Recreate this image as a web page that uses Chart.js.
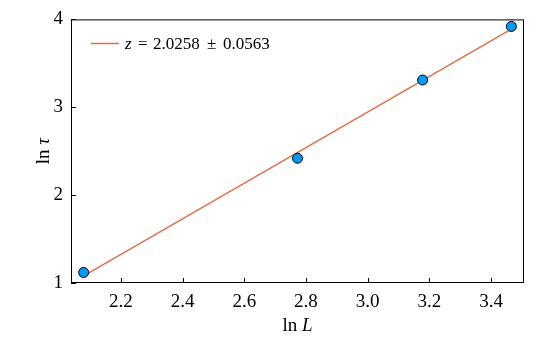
<!DOCTYPE html>
<html>
<head>
<meta charset="utf-8">
<script src="https://cdn.jsdelivr.net/npm/chart.js@4"></script>
<style>
  html, body { margin: 0; padding: 0; background: #fff; }
  #wrap { width: 540px; height: 360px; }
</style>
</head>
<body>
<div id="wrap"><canvas id="c" width="540" height="360"></canvas></div>
<script>
// 数据：ln L 与 ln tau
const lnL = [2.0794, 2.7726, 3.1781, 3.4657];
const lnTau = [1.12, 2.42, 3.31, 3.92];

// 拟合直线的两个端点
const fitX = [2.0794, 3.4657];
const fitY = [1.081, 3.890];
const fitLabel = ['z', '=', '2.0258', '±', '0.0563'];

// 刻度
const xTicks = [2.2, 2.4, 2.6, 2.8, 3.0, 3.2, 3.4];
const yTicks = [1, 2, 3, 4];

const SERIF = '"Liberation Serif", "DejaVu Serif", serif';

// 画混合字体的文字（正体 + 斜体）
function mixedText(ctx, parts, cx, by, size) {
  let total = 0;
  parts.forEach(p => {
    ctx.font = (p[1] ? 'italic ' : '') + size + 'px ' + SERIF;
    total += ctx.measureText(p[0]).width;
  });
  let sx = cx - total / 2;
  parts.forEach(p => {
    ctx.font = (p[1] ? 'italic ' : '') + size + 'px ' + SERIF;
    ctx.fillText(p[0], sx, by);
    sx += ctx.measureText(p[0]).width;
  });
}

// 边框、内刻度、坐标轴标题和图例
const framePlugin = {
  id: 'frame',
  afterDraw(chart) {
    const { ctx, chartArea: a, scales: { x, y } } = chart;
    ctx.save();
    ctx.strokeStyle = '#000';
    ctx.lineWidth = 1;
    ctx.strokeRect(a.left + 0.5, a.top + 0.5, a.right - a.left - 1, a.bottom - a.top - 1);

    ctx.beginPath();
    xTicks.forEach(v => {
      const px = Math.round(x.getPixelForValue(v)) + 0.5;
      ctx.moveTo(px, a.bottom);
      ctx.lineTo(px, a.bottom - 5);
    });
    yTicks.forEach(v => {
      const py = Math.round(y.getPixelForValue(v)) + 0.5;
      ctx.moveTo(a.left, py);
      ctx.lineTo(a.left + 5, py);
    });
    ctx.stroke();

    ctx.fillStyle = '#000';
    ctx.textBaseline = 'alphabetic';

    // x 轴标题 ln L
    mixedText(ctx, [['ln ', false], ['L', true]], (a.left + a.right) / 2, 331, 19);

    // y 轴标题 ln τ
    ctx.save();
    ctx.translate(49, (a.top + a.bottom) / 2);
    ctx.rotate(-Math.PI / 2);
    mixedText(ctx, [['ln ', false], ['τ', true]], 0, 0, 19);
    ctx.restore();

    // 图例
    const ds = chart.data.datasets[1];
    ctx.strokeStyle = ds.borderColor;
    ctx.lineWidth = 1.5;
    ctx.beginPath();
    ctx.moveTo(91, 43.5);
    ctx.lineTo(119, 43.5);
    ctx.stroke();
    const xs = [125, 138, 153, 207, 223];
    fitLabel.forEach((t, i) => {
      ctx.font = (i === 0 ? 'italic ' : '') + '17px ' + SERIF;
      ctx.fillText(t, xs[i], 49);
    });

    ctx.restore();
  }
};

new Chart(document.getElementById('c').getContext('2d'), {
  type: 'scatter',
  data: {
    datasets: [
      {
        label: '',
        data: lnL.map((v, i) => ({ x: v, y: lnTau[i] })),
        backgroundColor: '#009AFA',
        borderColor: '#000',
        borderWidth: 1,
        pointRadius: 5,
        order: 0
      },
      {
        label: fitLabel.join(' '),
        type: 'line',
        data: fitX.map((v, i) => ({ x: v, y: fitY[i] })),
        borderColor: '#E26F46',
        borderWidth: 1.5,
        pointRadius: 0,
        fill: false,
        order: 1
      }
    ]
  },
  options: {
    responsive: false,
    animation: false,
    layout: { padding: { top: 16, right: 16, left: 0, bottom: 0 } },
    plugins: {
      legend: { display: false },
      tooltip: { enabled: false }
    },
    scales: {
      x: {
        type: 'linear',
        min: 2.0384,
        max: 3.5067,
        grid: { display: false, drawTicks: false },
        border: { display: false },
        afterBuildTicks: s => { s.ticks = xTicks.map(v => ({ value: v })); },
        afterFit: s => { s.height = 77; },
        ticks: {
          color: '#000',
          padding: 8,
          maxRotation: 0,
          font: { family: SERIF, size: 19 },
          callback: v => Number(v).toFixed(1)
        }
      },
      y: {
        type: 'linear',
        min: 1,
        max: 4,
        grid: { display: false, drawTicks: false },
        border: { display: false },
        afterBuildTicks: s => { s.ticks = yTicks.map(v => ({ value: v })); },
        afterFit: s => { s.width = 71; },
        ticks: {
          color: '#000',
          padding: 8,
          font: { family: SERIF, size: 19 },
          callback: v => String(v)
        }
      }
    }
  },
  plugins: [framePlugin]
});
</script>
</body>
</html>
